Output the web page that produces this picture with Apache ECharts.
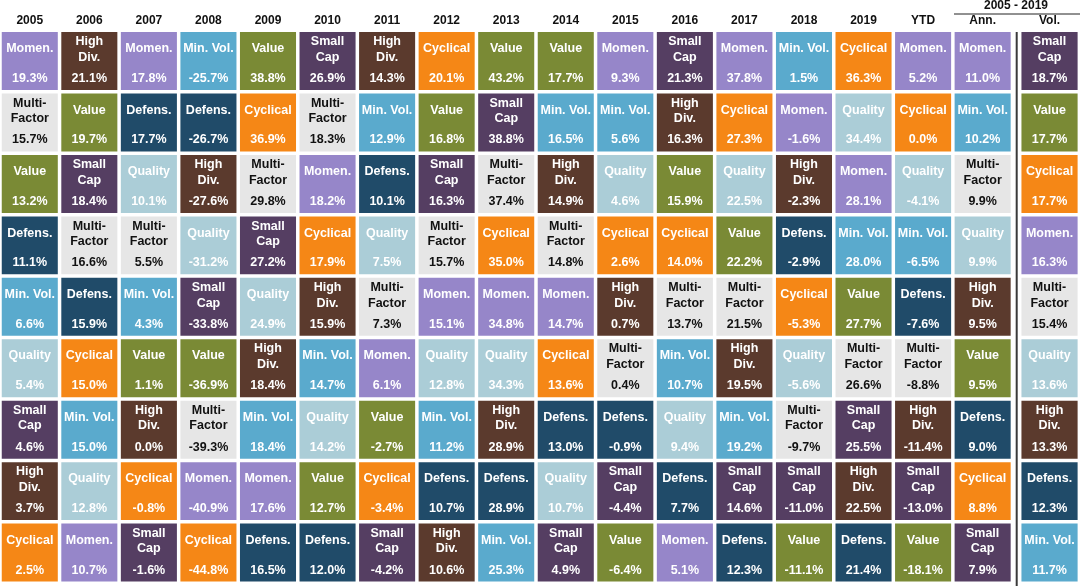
<!DOCTYPE html>
<html>
<head>
<meta charset="utf-8">
<script src="https://cdn.jsdelivr.net/npm/echarts@6/dist/echarts.min.js"></script>
<style>
html,body{margin:0;padding:0;background:#ffffff;}
#chart{width:1080px;height:586px;}
</style>
</head>
<body>
<div id="chart"></div>
<script>
// ---- Data ----
const columns = ['2005','2006','2007','2008','2009','2010','2011','2012','2013','2014','2015','2016','2017','2018','2019','YTD','Ann.'];
const volColumn = ['Vol.'];
const rankLabels = ['1','2','3','4','5','6','7','8','9'];

const factorGrid = [
  ['Momen.','Multi-Factor','Value','Defens.','Min. Vol.','Quality','Small Cap','High Div.','Cyclical'],
  ['High Div.','Value','Small Cap','Multi-Factor','Defens.','Cyclical','Min. Vol.','Quality','Momen.'],
  ['Momen.','Defens.','Quality','Multi-Factor','Min. Vol.','Value','High Div.','Cyclical','Small Cap'],
  ['Min. Vol.','Defens.','High Div.','Quality','Small Cap','Value','Multi-Factor','Momen.','Cyclical'],
  ['Value','Cyclical','Multi-Factor','Small Cap','Quality','High Div.','Min. Vol.','Momen.','Defens.'],
  ['Small Cap','Multi-Factor','Momen.','Cyclical','High Div.','Min. Vol.','Quality','Value','Defens.'],
  ['High Div.','Min. Vol.','Defens.','Quality','Multi-Factor','Momen.','Value','Cyclical','Small Cap'],
  ['Cyclical','Value','Small Cap','Multi-Factor','Momen.','Quality','Min. Vol.','Defens.','High Div.'],
  ['Value','Small Cap','Multi-Factor','Cyclical','Momen.','Quality','High Div.','Defens.','Min. Vol.'],
  ['Value','Min. Vol.','High Div.','Multi-Factor','Momen.','Cyclical','Defens.','Quality','Small Cap'],
  ['Momen.','Min. Vol.','Quality','Cyclical','High Div.','Multi-Factor','Defens.','Small Cap','Value'],
  ['Small Cap','High Div.','Value','Cyclical','Multi-Factor','Min. Vol.','Quality','Defens.','Momen.'],
  ['Momen.','Cyclical','Quality','Value','Multi-Factor','High Div.','Min. Vol.','Small Cap','Defens.'],
  ['Min. Vol.','Momen.','High Div.','Defens.','Cyclical','Quality','Multi-Factor','Small Cap','Value'],
  ['Cyclical','Quality','Momen.','Min. Vol.','Value','Multi-Factor','Small Cap','High Div.','Defens.'],
  ['Momen.','Cyclical','Quality','Min. Vol.','Defens.','Multi-Factor','High Div.','Small Cap','Value'],
  ['Momen.','Min. Vol.','Multi-Factor','Quality','High Div.','Value','Defens.','Cyclical','Small Cap']
];

const returnGrid = [
  [19.3, 15.7, 13.2, 11.1, 6.6, 5.4, 4.6, 3.7, 2.5],
  [21.1, 19.7, 18.4, 16.6, 15.9, 15.0, 15.0, 12.8, 10.7],
  [17.8, 17.7, 10.1, 5.5, 4.3, 1.1, 0.0, -0.8, -1.6],
  [-25.7, -26.7, -27.6, -31.2, -33.8, -36.9, -39.3, -40.9, -44.8],
  [38.8, 36.9, 29.8, 27.2, 24.9, 18.4, 18.4, 17.6, 16.5],
  [26.9, 18.3, 18.2, 17.9, 15.9, 14.7, 14.2, 12.7, 12.0],
  [14.3, 12.9, 10.1, 7.5, 7.3, 6.1, -2.7, -3.4, -4.2],
  [20.1, 16.8, 16.3, 15.7, 15.1, 12.8, 11.2, 10.7, 10.6],
  [43.2, 38.8, 37.4, 35.0, 34.8, 34.3, 28.9, 28.9, 25.3],
  [17.7, 16.5, 14.9, 14.8, 14.7, 13.6, 13.0, 10.7, 4.9],
  [9.3, 5.6, 4.6, 2.6, 0.7, 0.4, -0.9, -4.4, -6.4],
  [21.3, 16.3, 15.9, 14.0, 13.7, 10.7, 9.4, 7.7, 5.1],
  [37.8, 27.3, 22.5, 22.2, 21.5, 19.5, 19.2, 14.6, 12.3],
  [1.5, -1.6, -2.3, -2.9, -5.3, -5.6, -9.7, -11.0, -11.1],
  [36.3, 34.4, 28.1, 28.0, 27.7, 26.6, 25.5, 22.5, 21.4],
  [5.2, 0.0, -4.1, -6.5, -7.6, -8.8, -11.4, -13.0, -18.1],
  [11.0, 10.2, 9.9, 9.9, 9.5, 9.5, 9.0, 8.8, 7.9]
];

const volFactors = ['Small Cap','Value','Cyclical','Momen.','Multi-Factor','Quality','High Div.','Defens.','Min. Vol.'];
const volValues = [18.7, 17.7, 17.7, 16.3, 15.4, 13.6, 13.3, 12.3, 11.7];
const periodTitle = '2005 - 2019';

// ---- Styles ----
const factorColors = {
  'Momen.': '#9686c9',
  'High Div.': '#5b3a2d',
  'Min. Vol.': '#5aaacd',
  'Value': '#7a8a35',
  'Small Cap': '#553e62',
  'Cyclical': '#f58716',
  'Multi-Factor': '#e6e6e6',
  'Defens.': '#204b69',
  'Quality': '#abcdd7'
};
const factorLines = {
  'High Div.': 'High\nDiv.',
  'Small Cap': 'Small\nCap',
  'Multi-Factor': 'Multi-\nFactor'
};
const FONT = '"Liberation Sans", Arial, sans-serif';

// ---- Build series data ----
const mainData = [];
factorGrid.forEach((col, ci) => {
  col.forEach((f, ri) => mainData.push([ci, ri, f, returnGrid[ci][ri]]));
});
const volData = volFactors.map((f, ri) => [0, ri, f, volValues[ri]]);

function renderCell(params, api) {
  const x = api.value(0), y = api.value(1);
  const idx = params.dataIndex;
  const src = params.seriesIndex === 0 ? mainData[idx] : volData[idx];
  const factor = src[2], val = src[3];
  const c = api.coord([x, y]);
  const s = api.size([1, 1]);
  const gap = 3.5;
  const w = s[0] - gap, h = s[1] - gap;
  const left = c[0] - w / 2, top = c[1] - h / 2;
  const txtColor = factor === 'Multi-Factor' ? '#111111' : '#ffffff';
  const label = factorLines[factor] || factor;
  const twoLine = label.indexOf('\n') >= 0;
  return {
    type: 'group',
    children: [
      { type: 'rect', shape: { x: left, y: top, width: w, height: h },
        style: { fill: factorColors[factor] } },
      { type: 'text', style: {
          text: label, x: c[0], y: top + (twoLine ? 17.5 : 16.7),
          align: 'center', verticalAlign: 'middle', lineHeight: 15.6,
          fill: txtColor, fontSize: 12.5, fontWeight: 'bold', fontFamily: FONT } },
      { type: 'text', style: {
          text: val.toFixed(1) + '%', x: c[0], y: top + 46.5,
          align: 'center', verticalAlign: 'middle',
          fill: txtColor, fontSize: 12.5, fontWeight: 'bold', fontFamily: FONT } }
    ]
  };
}

const pitchX = 59.66;
const gridTop = 30.3, gridH = 553;

const chart = echarts.init(document.getElementById('chart'), null, { renderer: 'canvas' });
chart.setOption({
  backgroundColor: '#ffffff',
  animation: false,
  grid: [
    { left: -1.8, top: gridTop, width: pitchX * 17, height: gridH },
    { left: 1019.7, top: gridTop, width: pitchX, height: gridH }
  ],
  xAxis: [
    { type: 'category', gridIndex: 0, data: columns, position: 'top',
      axisLine: { show: false }, axisTick: { show: false }, splitLine: { show: false },
      axisLabel: { margin: 4, color: '#111', fontWeight: 'bold', fontSize: 12, fontFamily: FONT, interval: 0 } },
    { type: 'category', gridIndex: 1, data: volColumn, position: 'top',
      axisLine: { show: false }, axisTick: { show: false }, splitLine: { show: false },
      axisLabel: { margin: 4, color: '#111', fontWeight: 'bold', fontSize: 12, fontFamily: FONT, interval: 0 } }
  ],
  yAxis: [
    { type: 'category', gridIndex: 0, data: rankLabels, inverse: true, show: false },
    { type: 'category', gridIndex: 1, data: rankLabels, inverse: true, show: false }
  ],
  series: [
    { type: 'custom', xAxisIndex: 0, yAxisIndex: 0, renderItem: renderCell,
      data: mainData.map(d => [d[0], d[1]]) },
    { type: 'custom', xAxisIndex: 1, yAxisIndex: 1, renderItem: renderCell,
      data: volData.map(d => [d[0], d[1]]) }
  ],
  graphic: [
    { type: 'text', style: {
        text: periodTitle, x: 1016, y: 6, align: 'center', verticalAlign: 'middle',
        fill: '#111', fontSize: 12, fontWeight: 'bold', fontFamily: FONT } },
    { type: 'line', shape: { x1: 954, y1: 14, x2: 1080, y2: 14 },
      style: { stroke: '#222', lineWidth: 1 } },
    { type: 'line', shape: { x1: 1016.7, y1: 32, x2: 1016.7, y2: 586 },
      style: { stroke: '#3a3a3a', lineWidth: 2 } }
  ]
});
</script>
</body>
</html>
